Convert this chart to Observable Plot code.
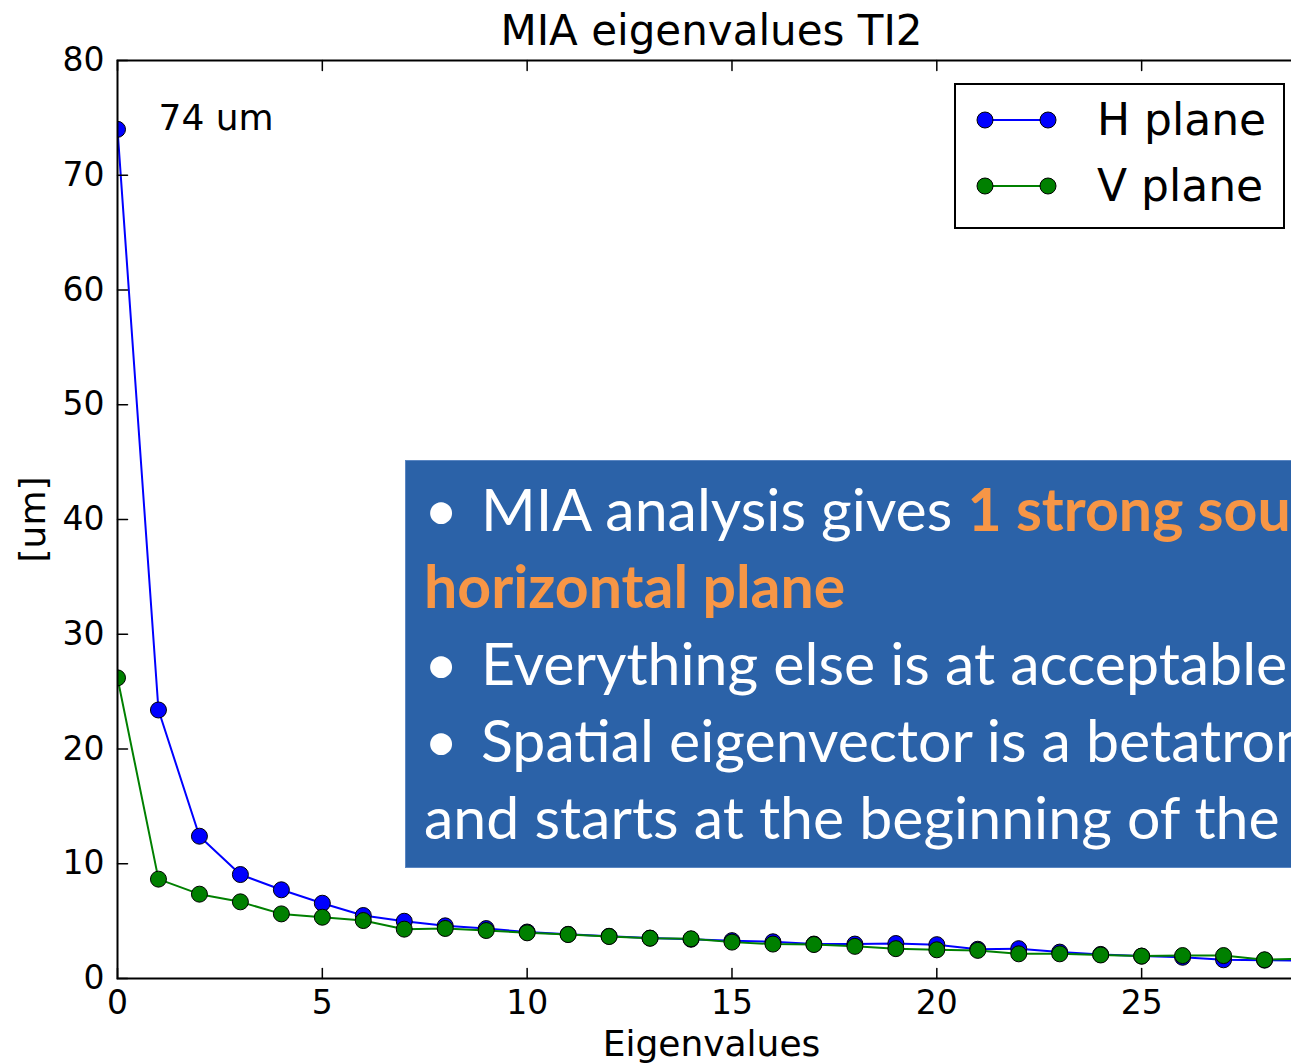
<!DOCTYPE html>
<html>
<head>
<meta charset="utf-8">
<script src="https://cdn.jsdelivr.net/npm/d3@7"></script>
<script src="https://cdn.jsdelivr.net/npm/@observablehq/plot@0.6"></script>
<style>
  html, body { margin: 0; padding: 0; background: #fff; overflow: hidden; }
  body { position: relative; width: 1291px; height: 1064px; }
  #chart { position: absolute; left: 0; top: 0; }
  #chart svg { max-width: none; }
  #legend { position: absolute; left: 954px; top: 83px; }
  #note {
    position: absolute; left: 405px; top: 460px; width: 1000px; height: 408px;
    box-sizing: border-box; background: #2B62A8; border: 1px solid #5a86c2;
    padding: 9px 0 0 18px; color: #fff; font-family: Lato, "Open Sans", sans-serif;
    font-size: 59px; line-height: 77px; white-space: nowrap; overflow: hidden;
  }
  #note .bul { display: inline-block; width: 57px; }
  #note .hl { color: #F79646; font-weight: 700; }
</style>
</head>
<body>
<div id="chart"></div>
<div id="legend"></div>
<div id="note">
  <div><span class="bul">•</span>MIA analysis gives <span class="hl">1 strong source</span></div>
  <div><span class="hl">horizontal plane</span></div>
  <div><span class="bul">•</span>Everything else is at acceptable</div>
  <div><span class="bul">•</span>Spatial eigenvector is a betatron</div>
  <div>and starts at the beginning of the</div>
</div>
<script>
// Eigenvalue index (mode number)
const modes = [0, 1, 2, 3, 4, 5, 6, 7, 8, 9, 10, 11, 12, 13, 14, 15, 16, 17, 18, 19,
               20, 21, 22, 23, 24, 25, 26, 27, 28, 29];
// Horizontal-plane eigenvalues [um]
const hPlane = [74, 23.4, 12.4, 9.06, 7.73, 6.56, 5.49, 4.99, 4.59, 4.35,
                4.05, 3.85, 3.68, 3.52, 3.42, 3.3, 3.2, 3.0, 3.0, 3.05,
                2.95, 2.55, 2.6, 2.3, 2.1, 1.95, 1.85, 1.63, 1.6, 1.55];
// Vertical-plane eigenvalues [um]
const vPlane = [26.2, 8.66, 7.35, 6.68, 5.63, 5.34, 5.05, 4.3, 4.36, 4.18,
                3.98, 3.83, 3.66, 3.51, 3.46, 3.17, 3.0, 2.96, 2.8, 2.6,
                2.5, 2.45, 2.15, 2.15, 2.05, 1.95, 2.0, 2.0, 1.63, 1.75];
const seriesNames = ["H plane", "V plane"];
const seriesColors = ["#0000ff", "#008000"];
const xTicks = [0, 5, 10, 15, 20, 25];
const yTicks = [0, 10, 20, 30, 40, 50, 60, 70, 80];

const hRows = modes.map((m, i) => ({mode: m, value: hPlane[i]}));
const vRows = modes.map((m, i) => ({mode: m, value: vPlane[i]}));
const peak = hRows[0];

// inward tick: a single stroke along the vector direction
const tickShape = {draw(ctx, l) { ctx.moveTo(0, 0); ctx.lineTo(0, -l); }};
const tickOpts = {length: 10, anchor: "start", shape: tickShape, stroke: "black", strokeWidth: 1.5};
const label = {lineAnchor: "middle", textAnchor: "middle"};

const chart = Plot.plot({
  width: 1320,
  height: 1064,
  marginLeft: 117,
  marginRight: 15,
  marginTop: 60,
  marginBottom: 86,
  style: {fontFamily: "DejaVu Sans", background: "white", color: "black", maxWidth: "none"},
  x: {domain: [0, 29], axis: null},
  y: {domain: [0, 80], axis: null},
  marks: [
    // series
    Plot.line(hRows, {x: "mode", y: "value", stroke: seriesColors[0], strokeWidth: 2, clip: "frame"}),
    Plot.dot(hRows, {x: "mode", y: "value", r: 8, fill: seriesColors[0], stroke: "black", strokeWidth: 1, clip: "frame"}),
    Plot.line(vRows, {x: "mode", y: "value", stroke: seriesColors[1], strokeWidth: 2, clip: "frame"}),
    Plot.dot(vRows, {x: "mode", y: "value", r: 8, fill: seriesColors[1], stroke: "black", strokeWidth: 1, clip: "frame"}),
    // frame and inward ticks on all four sides
    Plot.frame({stroke: "black", strokeWidth: 2}),
    Plot.vector(xTicks, {x: d => d, frameAnchor: "bottom", rotate: 0, ...tickOpts}),
    Plot.vector(xTicks, {x: d => d, frameAnchor: "top", rotate: 180, ...tickOpts}),
    Plot.vector(yTicks, {y: d => d, frameAnchor: "left", rotate: 90, ...tickOpts}),
    Plot.vector(yTicks, {y: d => d, frameAnchor: "right", rotate: -90, ...tickOpts}),
    // tick labels
    Plot.text(xTicks, {x: d => d, frameAnchor: "bottom", dy: 25, ...label, text: d => String(d), fontSize: 33}),
    Plot.text(yTicks, {y: d => d, frameAnchor: "left", dx: -13, lineAnchor: "middle", textAnchor: "end",
                       text: d => String(d), fontSize: 33}),
    // axis labels and title
    Plot.text(["Eigenvalues"], {frameAnchor: "bottom", dy: 66, ...label, text: d => d, fontSize: 36}),
    Plot.text(["[um]"], {frameAnchor: "left", dx: -84, rotate: -90, ...label, text: d => d, fontSize: 36}),
    Plot.text(["MIA eigenvalues TI2"], {frameAnchor: "top", dy: -29, ...label, text: d => d, fontSize: 42}),
    // peak annotation
    Plot.text([peak], {x: "mode", y: "value", dx: 41, dy: -11, textAnchor: "start", lineAnchor: "middle",
                       text: d => `${d.value} um`, fontSize: 36})
  ]
});
chart.style.maxWidth = "none";
document.getElementById("chart").append(chart);

// legend box with line+marker samples
const lw = 331, lh = 146;
const leg = d3.select("#legend").append("svg")
  .attr("width", lw).attr("height", lh)
  .style("font-family", "DejaVu Sans");
leg.append("rect").attr("x", 1).attr("y", 1).attr("width", lw - 2).attr("height", lh - 2)
  .attr("fill", "white").attr("stroke", "black").attr("stroke-width", 2);
seriesNames.forEach((name, i) => {
  const cy = 37 + i * 66;
  const g = leg.append("g");
  g.append("line").attr("x1", 31).attr("x2", 94).attr("y1", cy).attr("y2", cy)
    .attr("stroke", seriesColors[i]).attr("stroke-width", 2);
  [31, 94].forEach(cx => g.append("circle").attr("cx", cx).attr("cy", cy).attr("r", 8)
    .attr("fill", seriesColors[i]).attr("stroke", "black").attr("stroke-width", 1));
  g.append("text").attr("x", 143).attr("y", cy).attr("dy", "0.35em")
    .attr("font-size", 44).text(name);
});
</script>
</body>
</html>
